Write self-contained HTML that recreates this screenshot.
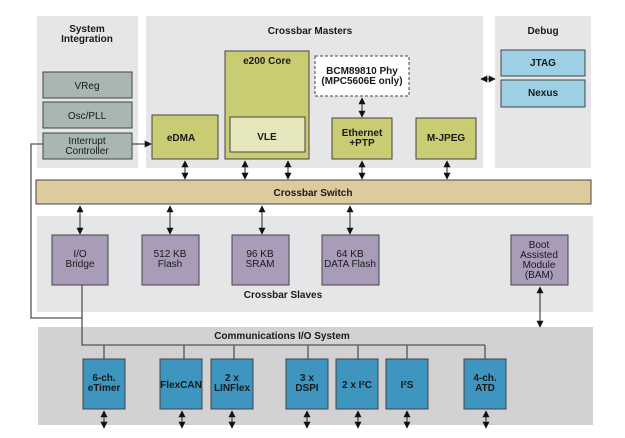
<!DOCTYPE html>
<html><head><meta charset="utf-8"><style>
body{margin:0;background:#fff}
svg{display:block}
text{font-family:"Liberation Sans",Arial,sans-serif;font-size:10px;font-weight:bold;fill:#1a1a1a;text-anchor:middle}
.n{font-weight:normal}
</style></head><body>
<svg width="625" height="438" viewBox="0 0 625 438" xmlns="http://www.w3.org/2000/svg">
<defs>
<marker id="a" viewBox="0 0 10 10" refX="9" refY="5" markerUnits="userSpaceOnUse" markerWidth="7" markerHeight="8" orient="auto-start-reverse"><path d="M0,0L10,5L0,10z" fill="#111"/></marker>
</defs>
<g stroke="none">
<rect x="37" y="16" width="101" height="152" fill="#e6e6e8"/>
<rect x="146" y="16" width="337" height="152" fill="#e6e6e8"/>
<rect x="495" y="16" width="96" height="152" fill="#e6e6e8"/>
<rect x="37" y="216" width="556" height="96" fill="#e6e6e8"/>
<rect x="38" y="327" width="555" height="98" fill="#d2d2d4"/>
</g>
<text x="87" y="32">System</text><text x="87" y="42">Integration</text>
<text x="310" y="34">Crossbar Masters</text>
<text x="543" y="34">Debug</text>
<text x="283" y="298">Crossbar Slaves</text>
<text x="282" y="339">Communications I/O System</text>
<g stroke="#444" stroke-width="1">
<rect x="43" y="72" width="89" height="26" fill="#a9b7b1"/>
<rect x="43" y="102" width="89" height="26" fill="#a9b7b1"/>
<rect x="43" y="133" width="89" height="26" fill="#a9b7b1"/>
<rect x="152" y="115" width="66" height="44" fill="#c9cc72"/>
<rect x="225" y="51" width="84" height="108" fill="#c9cc72"/>
<rect x="230" y="117" width="75" height="35" fill="#e5e6bb"/>
<rect x="315" y="56" width="94" height="40" fill="#fff" stroke-dasharray="3,2"/>
<rect x="332" y="118" width="60" height="41" fill="#c9cc72"/>
<rect x="416" y="118" width="60" height="41" fill="#c9cc72"/>
<rect x="501" y="50" width="84" height="26" fill="#9dd0e4"/>
<rect x="501" y="80" width="84" height="27" fill="#9dd0e4"/>
<rect x="36" y="180" width="555" height="24" fill="#dccb9c"/>
<rect x="52" y="235" width="56" height="50" fill="#a99cb8"/>
<rect x="142" y="235" width="57" height="50" fill="#a99cb8"/>
<rect x="232" y="235" width="57" height="50" fill="#a99cb8"/>
<rect x="322" y="235" width="57" height="50" fill="#a99cb8"/>
<rect x="511" y="235" width="57" height="50" fill="#a99cb8"/>
<rect x="83" y="359" width="42" height="50" fill="#3d95c0"/>
<rect x="160" y="359" width="42" height="50" fill="#3d95c0"/>
<rect x="211" y="359" width="42" height="50" fill="#3d95c0"/>
<rect x="286" y="359" width="42" height="50" fill="#3d95c0"/>
<rect x="336" y="359" width="42" height="50" fill="#3d95c0"/>
<rect x="386" y="359" width="42" height="50" fill="#3d95c0"/>
<rect x="464" y="359" width="42" height="50" fill="#3d95c0"/>
</g>
<g fill="none" stroke="#555" stroke-width="1.3">
<polyline points="43,144 31,144 31,318 82,318"/>
<polyline points="82,285 82,345 485,345"/>
<path d="M104,345V359M184,345V359M234,345V359M308,345V359M358,345V359M407,345V359M485,345V359"/>
</g>
<g stroke="#222" stroke-width="1" marker-end="url(#a)">
<line x1="132" y1="144" x2="151" y2="144"/>
</g>
<g stroke="#222" stroke-width="1" marker-start="url(#a)" marker-end="url(#a)">
<line x1="185" y1="161" x2="185" y2="179"/>
<line x1="245" y1="161" x2="245" y2="179"/>
<line x1="288" y1="161" x2="288" y2="179"/>
<line x1="362" y1="161" x2="362" y2="179"/>
<line x1="447" y1="161" x2="447" y2="179"/>
<line x1="362" y1="98" x2="362" y2="117"/>
<line x1="481" y1="79" x2="495" y2="79"/>
<line x1="80" y1="206" x2="80" y2="234"/>
<line x1="170" y1="206" x2="170" y2="234"/>
<line x1="262" y1="206" x2="262" y2="234"/>
<line x1="350" y1="206" x2="350" y2="234"/>
<line x1="540" y1="287" x2="540" y2="327"/>
<line x1="104" y1="411" x2="104" y2="428"/>
<line x1="182" y1="411" x2="182" y2="428"/>
<line x1="232" y1="411" x2="232" y2="428"/>
<line x1="307" y1="411" x2="307" y2="428"/>
<line x1="358" y1="411" x2="358" y2="428"/>
<line x1="407" y1="411" x2="407" y2="428"/>
<line x1="486" y1="411" x2="486" y2="428"/>
</g>
<text class="n" x="87" y="89">VReg</text>
<text class="n" x="87" y="119">Osc/PLL</text>
<text class="n" x="87" y="144">Interrupt</text><text class="n" x="87" y="154">Controller</text>
<text x="181" y="141">eDMA</text>
<text x="267" y="64">e200 Core</text>
<text x="267" y="140">VLE</text>
<text x="362" y="74">BCM89810 Phy</text><text x="362" y="84">(MPC5606E only)</text>
<text x="362" y="136">Ethernet</text><text x="362" y="146">+PTP</text>
<text x="446" y="141">M-JPEG</text>
<text x="543" y="66">JTAG</text>
<text x="543" y="96">Nexus</text>
<text x="313" y="196">Crossbar Switch</text>
<text class="n" x="80" y="257">I/O</text><text class="n" x="80" y="267">Bridge</text>
<text class="n" x="170" y="257">512 KB</text><text class="n" x="170" y="267">Flash</text>
<text class="n" x="260" y="257">96 KB</text><text class="n" x="260" y="267">SRAM</text>
<text class="n" x="350" y="257">64 KB</text><text class="n" x="350" y="267">DATA Flash</text>
<text class="n" x="539" y="248">Boot</text><text class="n" x="539" y="258">Assisted</text><text class="n" x="539" y="268">Module</text><text class="n" x="539" y="278">(BAM)</text>
<text x="104" y="381">6-ch.</text><text x="104" y="391">eTimer</text>
<text x="181" y="388">FlexCAN</text>
<text x="232" y="381">2 x</text><text x="232" y="391">LINFlex</text>
<text x="307" y="381">3 x</text><text x="307" y="391">DSPI</text>
<text x="357" y="388">2 x I²C</text>
<text x="407" y="388">I²S</text>
<text x="485" y="381">4-ch.</text><text x="485" y="391">ATD</text>
</svg>
</body></html>
